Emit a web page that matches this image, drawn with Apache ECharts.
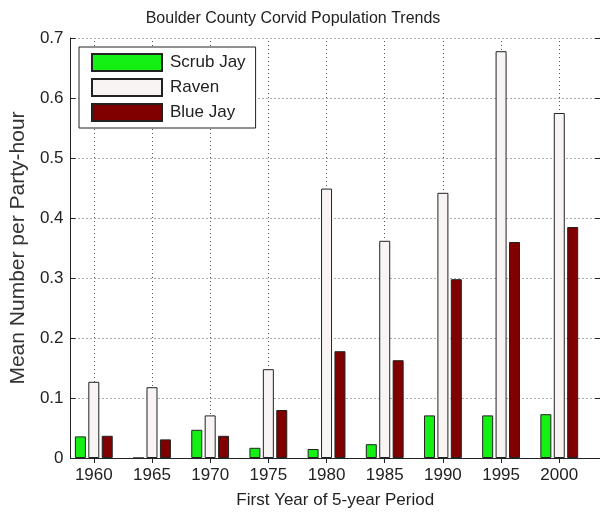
<!DOCTYPE html>
<html><head><meta charset="utf-8">
<script src="https://cdn.jsdelivr.net/npm/echarts@6/dist/echarts.min.js"></script>
<style>html,body{margin:0;padding:0;background:#fff}#c{width:600px;height:514px}</style>
</head><body><div id="c"></div>
<script>
const years = [1960, 1965, 1970, 1975, 1980, 1985, 1990, 1995, 2000];
const scrubJay = [0.036, 0, 0.047, 0.017, 0.015, 0.023, 0.071, 0.071, 0.073];
const raven = [0.127, 0.118, 0.071, 0.148, 0.449, 0.362, 0.442, 0.678, 0.575];
const blueJay = [0.037, 0.031, 0.037, 0.080, 0.178, 0.163, 0.298, 0.360, 0.385];
const yTicks = [0, 0.1, 0.2, 0.3, 0.4, 0.5, 0.6, 0.7];
const seriesNames = ['Scrub Jay', 'Raven', 'Blue Jay'];
const seriesColors = ['#14f014', '#f8f4f4', '#800000'];

const FONT = 'Liberation Sans, Arial, sans-serif';
const chart = echarts.init(document.getElementById('c'), null, {renderer: 'canvas'});
const pairs = arr => years.map((y, i) => [y, arr[i]]);
const dotted = {color: '#555', width: 1, type: [1, 3]};

const bars = [scrubJay, raven, blueJay].map((arr, k) => ({
  name: seriesNames[k],
  type: 'bar',
  data: pairs(arr),
  barWidth: 11,
  barGap: '22%',
  z: 5,
  itemStyle: {color: seriesColors[k], borderColor: '#222', borderWidth: 1},
  emphasis: {disabled: true}
}));

// vertical dotted grid lines at the year ticks, drawn under the bars
const gridSeries = {
  type: 'line', name: 'vgrid', data: [], z: 0, silent: true,
  markLine: {
    silent: true, symbol: ['none', 'none'], z: 0,
    label: {show: false},
    lineStyle: dotted,
    emphasis: {disabled: true},
    data: years.map(y => ({xAxis: y}))
  }
};

chart.setOption({
  animation: false,
  backgroundColor: '#fff',
  textStyle: {fontFamily: FONT},
  title: {
    text: 'Boulder County Corvid Population Trends',
    left: 288, top: 6, textAlign: 'center',
    textStyle: {fontSize: 16, fontWeight: 'normal', color: '#222', fontFamily: FONT}
  },
  legend: {
    data: seriesNames,
    orient: 'vertical',
    left: 79, top: 47,
    padding: [6, 10, 6, 12],
    itemWidth: 70, itemHeight: 17, itemGap: 6,
    icon: 'rect',
    backgroundColor: '#fff',
    borderColor: '#222', borderWidth: 1,
    textStyle: {fontSize: 17, color: '#222', fontFamily: FONT, padding: [0, 0, 0, 3]},
    selectedMode: false,
    z: 10
  },
  grid: {left: 68, top: 38, width: 532, height: 421, containLabel: false},
  xAxis: [{
    type: 'value', min: 1958, max: 2003.5,
    name: 'First Year of 5-year Period', nameLocation: 'middle', nameGap: 34,
    nameTextStyle: {fontSize: 17, color: '#222', fontFamily: FONT},
    axisLine: {show: true, lineStyle: {color: '#222'}},
    axisTick: {show: true, inside: true, length: 5, customValues: years, lineStyle: {color: '#222'}},
    axisLabel: {customValues: years, fontSize: 17, color: '#222', margin: 9, fontFamily: FONT,
      formatter: v => String(Math.round(v))},
    splitLine: {show: false}
  }, {
    type: 'value', min: 1958, max: 2003.5, position: 'top',
    axisLine: {show: true, lineStyle: {color: '#222'}},
    axisTick: {show: true, inside: true, length: 5, customValues: years, lineStyle: {color: '#222'}},
    axisLabel: {show: false},
    splitLine: {show: false}
  }],
  yAxis: [{
    type: 'value', min: 0, max: 0.7, interval: 0.1,
    name: 'Mean Number per Party-hour', nameLocation: 'middle', nameGap: 40,
    nameTextStyle: {fontSize: 21, color: '#333', fontFamily: FONT},
    axisLine: {show: true, lineStyle: {color: '#222'}},
    axisTick: {show: true, inside: true, length: 5, lineStyle: {color: '#222'}},
    axisLabel: {fontSize: 17, color: '#222', margin: 7, fontFamily: FONT,
      formatter: v => { const t = yTicks.find(x => Math.abs(x - v) < 1e-9); return t === undefined ? '' : String(t); }},
    splitLine: {show: true, lineStyle: dotted}
  }, {
    type: 'value', min: 0, max: 0.7, interval: 0.1, position: 'right',
    axisLine: {show: true, lineStyle: {color: '#222'}},
    axisTick: {show: true, inside: true, length: 5, lineStyle: {color: '#222'}},
    axisLabel: {show: false},
    splitLine: {show: false}
  }],
  series: [gridSeries].concat(bars)
});
</script></body></html>
